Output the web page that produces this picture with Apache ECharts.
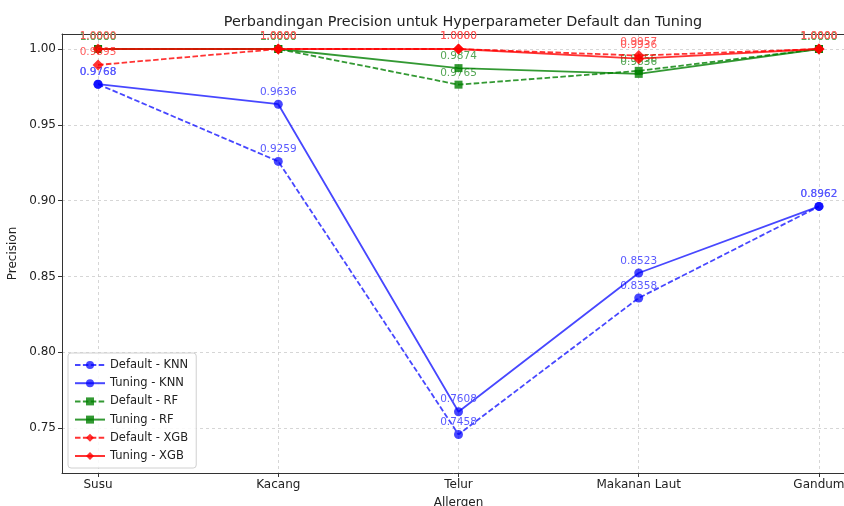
<!DOCTYPE html>
<html><head><meta charset="utf-8">
<script src="https://cdn.jsdelivr.net/npm/echarts@6/dist/echarts.min.js"></script>
<style>html,body{margin:0;padding:0;background:#fff}#c{width:844px;height:506px}</style>
</head><body><div id="c"></div>
<script>
const categories = ['Susu','Kacang','Telur','Makanan Laut','Gandum'];
const knnDefault = [0.9768, 0.9259, 0.7458, 0.8358, 0.8962];
const knnTuning  = [0.9768, 0.9636, 0.7608, 0.8523, 0.8962];
const rfDefault  = [1.0000, 1.0000, 0.9765, 0.9856, 1.0000];
const rfTuning   = [1.0000, 1.0000, 0.9874, 0.9836, 1.0000];
const xgbDefault = [0.9895, 1.0000, 1.0000, 0.9957, 1.0000];
const xgbTuning  = [1.0000, 1.0000, 1.0000, 0.9936, 1.0000];
const yTicks = [0.75, 0.80, 0.85, 0.90, 0.95, 1.00];

const FONT = 'DejaVu Sans';
function mk(name, vals, color, labelColor, symbol, size, dashed, z){
  return {
    name, type:'line',
    data: vals.map((v,i)=>[i,v]),
    symbol, symbolSize:size,
    lineStyle:{color, width:1.8, type: dashed ? [5.5,2.4] : 'solid'},
    itemStyle:{color},
    label:{show:true, position:'top', distance:2, formatter:p=>p.value[1].toFixed(4),
      color:labelColor, fontFamily:FONT, fontSize:10.5},
    labelLayout:{hideOverlap:false},
    z
  };
}
const blue='rgba(0,0,255,0.72)', blueL='#5a5aff';
const green='rgba(0,128,0,0.8)', greenL='#55a655';
const red='rgba(255,0,0,0.8)', redL='#ff5a5a';
const chart = echarts.init(document.getElementById('c'));
chart.setOption({
  animation:false,
  backgroundColor:'#fff',
  title:{text:'Perbandingan Precision untuk Hyperparameter Default dan Tuning', left:458, textAlign:'center', top:10,
    textStyle:{fontFamily:FONT, fontSize:14.4, fontWeight:'normal', color:'#222'}},
  grid:{left:62, top:34, width:793, height:439, outerBoundsMode:'none', containLabel:false},
  legend:{left:68, top:353, orient:'vertical', itemGap:6.2, itemWidth:30, itemHeight:10,
    backgroundColor:'rgba(255,255,255,0.85)', borderColor:'#d0d0d0', borderWidth:1, borderRadius:3, padding:[6,8,6,6],
    textStyle:{fontFamily:FONT, fontSize:11.5, color:'#222'},
    data:['Default - KNN','Tuning - KNN','Default - RF','Tuning - RF','Default - XGB','Tuning - XGB']},
  xAxis:[{type:'value', min:-0.2, max:4.2, name:'Allergen', nameLocation:'middle', nameGap:24,
    nameTextStyle:{fontFamily:FONT, fontSize:12, color:'#222'},
    axisLine:{show:true, onZero:false, lineStyle:{color:'#333', width:1}},
    axisTick:{show:true, customValues:[0,1,2,3,4], length:4, lineStyle:{color:'#333'}},
    axisLabel:{customValues:[0,1,2,3,4], formatter:v=>categories[Math.round(v)], fontFamily:FONT, fontSize:12, color:'#222', margin:6},
    splitLine:{show:true, lineStyle:{color:'#ccc', type:[3,3], width:0.8}}},
    {type:'value', position:'top', min:-0.2, max:4.2,
    axisLine:{show:true, onZero:false, lineStyle:{color:'#333', width:1}},
    axisTick:{show:false}, axisLabel:{show:false}, splitLine:{show:false}}],
  yAxis:{type:'value', min:0.7204, max:1.0099, name:'Precision', nameLocation:'middle', nameGap:42,
    nameTextStyle:{fontFamily:FONT, fontSize:12, color:'#222'},
    axisLine:{show:true, onZero:false, lineStyle:{color:'#333', width:1}},
    axisTick:{show:true, customValues:yTicks, length:4, lineStyle:{color:'#333'}},
    axisLabel:{customValues:yTicks, formatter:v=>v.toFixed(2), fontFamily:FONT, fontSize:12, color:'#222', margin:6},
    splitLine:{show:true, lineStyle:{color:'#ccc', type:[3,3], width:0.8}}},
  series:[
    mk('Default - KNN', knnDefault, blue, blueL, 'circle', 9, true, 2),
    mk('Tuning - KNN', knnTuning, blue, blueL, 'circle', 9, false, 3),
    mk('Default - RF', rfDefault, green, greenL, 'rect', 8, true, 4),
    mk('Tuning - RF', rfTuning, green, greenL, 'rect', 8, false, 5),
    mk('Default - XGB', xgbDefault, red, redL, 'diamond', 11, true, 6),
    mk('Tuning - XGB', xgbTuning, red, redL, 'diamond', 11, false, 7)
  ]
});
</script></body></html>
